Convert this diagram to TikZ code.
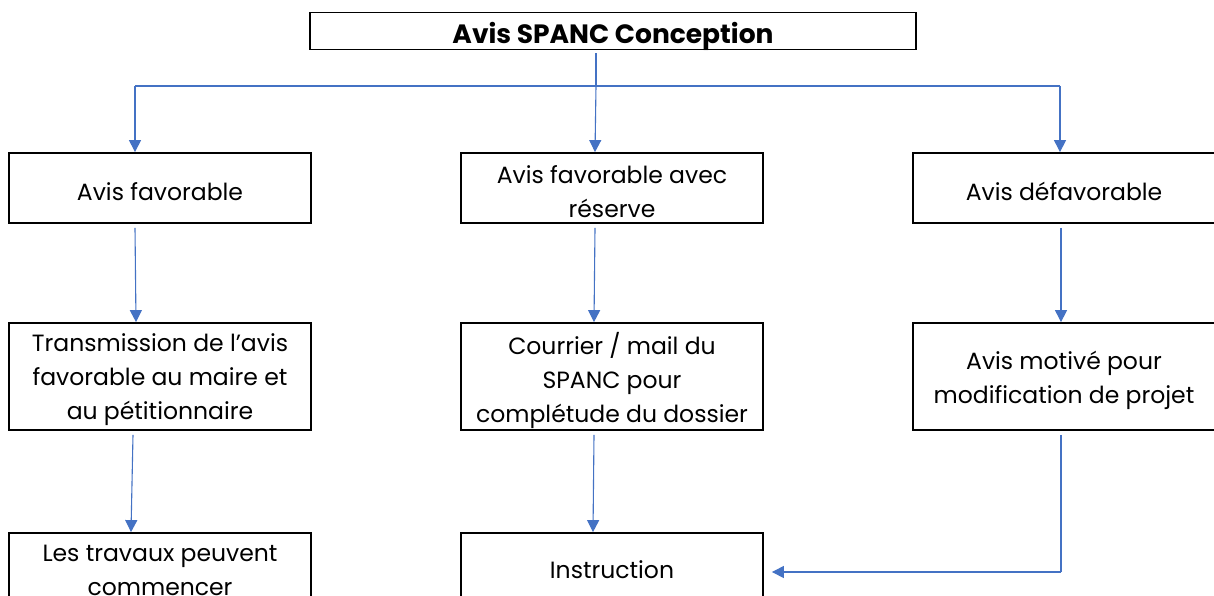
\documentclass[tikz,border=0pt]{standalone}
\usepackage{fontspec}
\setmainfont{Poppins}
\usetikzlibrary{arrows.meta,calc}
\definecolor{linkblue}{HTML}{4472C4}
\tikzset{
  box/.style={draw=black,line width=1.8pt,fill=white,inner sep=0pt,minimum width=302pt},
  txt/.style={align=center,inner sep=0pt,font=\fontsize{23.5}{34}\selectfont,yshift=-3.5pt},
  link/.style={draw=linkblue,line width=1.1pt},
  arr/.style={link,-{Triangle[width=12pt,length=12pt]}}
}
\begin{document}
\begin{tikzpicture}[x=1pt,y=-1pt]
\useasboundingbox (0,0) rectangle (1214,596);
\clip (0,0) rectangle (1214,596);
\fill[white] (0,0) rectangle (1214,596);
% top
\node[box,minimum width=606pt,minimum height=37pt,
  label={[txt,font=\fontsize{26.5}{30}\selectfont\bfseries,yshift=-1.5pt]center:Avis SPANC Conception}] (top) at (613,31) {};
% row 1
\node[box,minimum height=70pt,label={[txt]center:Avis favorable}] (a1) at (160,188) {};
\node[box,minimum height=70pt,label={[txt]center:{Avis favorable avec\\réserve}}] (b1) at (612,188) {};
\node[box,minimum height=70pt,label={[txt]center:Avis défavorable}] (c1) at (1064,188) {};
% row 2
\node[box,minimum height=107pt,label={[txt]center:{Transmission de l{\char"27}avis\\favorable au maire et\\au pétitionnaire}}] (a2) at (160,376.5) {};
\node[box,minimum height=107pt,label={[txt]center:{Courrier / mail du\\SPANC pour\\complétude du dossier}}] (b2) at (612,376.5) {};
\node[box,minimum height=107pt,label={[txt]center:{Avis motivé pour\\modification de projet}}] (c2) at (1064,376.5) {};
% row 3
\node[box,minimum height=67pt,label={[txt]center:{Les travaux peuvent\\commencer}}] (a3) at (160,566.5) {};
\node[box,minimum height=67pt,label={[txt]center:Instruction}] (b3) at (612,566.5) {};
% coordinates
\coordinate (split) at (596,86);
\coordinate (sl) at (135,86);
\coordinate (sr) at (1060,86);
\coordinate (corner) at (1061,572);
% connectors
\draw[link] (sl) -- (sr);
\draw[link] ([xshift=-17pt,yshift=-3pt]top.south) -- (split);
\draw[arr] (split) -- ([xshift=-17pt]b1.north);
\draw[arr] (sl) -- ([xshift=-25pt]a1.north);
\draw[arr] (sr) -- ([xshift=-4pt]c1.north);
\draw[arr] ([xshift=-25pt,yshift=-4pt]a1.south) -- ([xshift=-24pt]a2.north);
\draw[arr] ([xshift=-17pt,yshift=-4pt]b1.south) -- ([xshift=-18pt]b2.north);
\draw[arr] ([xshift=-3pt,yshift=-4pt]c1.south) -- ([xshift=-3pt]c2.north);
\draw[arr] ([xshift=-27pt,yshift=-4pt]a2.south) -- ([xshift=-29pt]a3.north);
\draw[arr] ([xshift=-18pt,yshift=-4pt]b2.south) -- ([xshift=-19pt]b3.north);
\draw[link] ([xshift=-3pt,yshift=-4pt]c2.south) -- (corner);
\draw[arr] (corner) -- ([xshift=8pt]b3.east |- corner);
\end{tikzpicture}
\end{document}
